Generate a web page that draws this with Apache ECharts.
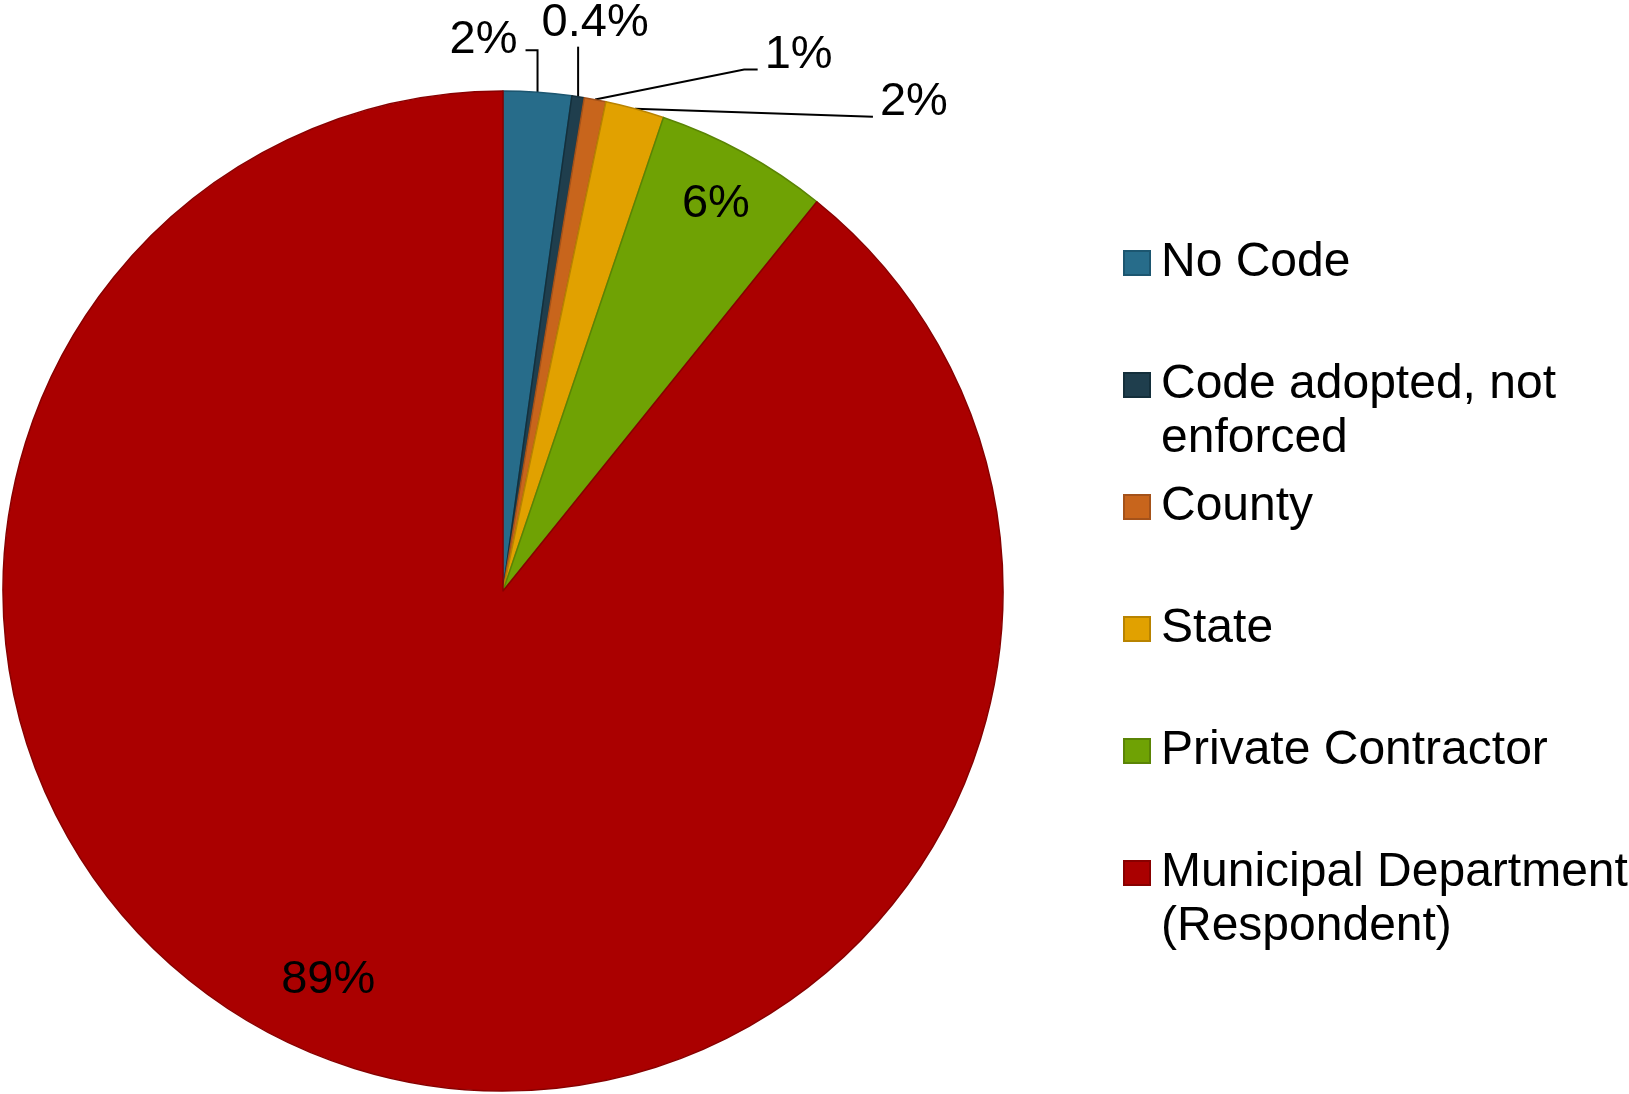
<!DOCTYPE html>
<html><head><meta charset="utf-8">
<script src="https://cdn.jsdelivr.net/npm/echarts@6/dist/echarts.min.js"></script>
<style>html,body{margin:0;padding:0;background:#fff}#c{width:1629px;height:1094px}</style>
</head><body><div id="c"></div>
<script>
// ---- data ----
const categories = ['No Code', 'Code adopted, not enforced', 'County', 'State', 'Private Contractor', 'Municipal Department (Respondent)'];
const legendLines = [['No Code'], ['Code adopted, not', 'enforced'], ['County'], ['State'], ['Private Contractor'], ['Municipal Department', '(Respondent)']];
const values = [2.2, 0.4, 0.7, 1.9, 5.6, 89.2];
const labelTexts = ['2%', '0.4%', '1%', '2%', '6%', '89%'];

// ---- style ----
const colors = ['#276C8A', '#1F3E4D', '#C8651C', '#E1A100', '#6FA204', '#AA0000'];
const borders = ['#1C5670', '#142F3B', '#A4521A', '#B88300', '#5A8405', '#880000'];
const CX = 503, CY = 591, R = 500;
const FONT = '"Liberation Sans", Arial, sans-serif';
const placement = [
  { side: 'out', path: [[0, -42], [-12, 0]], text: [-8, -10], align: 'right' },
  { side: 'out', path: [[0, -50]], text: [17, -24], align: 'center' },
  { side: 'out', path: [[149, -30], [13.5, 0]], text: [7, -15], align: 'left' },
  { side: 'out', path: [[238, 8]], text: [7, -15], align: 'left' },
  { side: 'in', f: 0.884, nudge: [0, 0] },
  { side: 'in', f: 0.852, nudge: [-33, -13] }
];

const rich = {
  sp: { width: 12 },
  ind: { width: 36 },
  t: { fontSize: 48, fontFamily: FONT, color: '#000', lineHeight: 54 }
};
colors.forEach((c, i) => {
  rich['b' + i] = { width: 24, height: 22, backgroundColor: c, borderColor: borders[i], borderWidth: 2 };
});

const chart = echarts.init(document.getElementById('c'), null, { renderer: 'canvas' });
chart.setOption({
  animation: false,
  backgroundColor: '#fff',
  legend: {
    orient: 'vertical',
    left: 1120,
    top: 236,
    padding: 0,
    itemGap: 14,
    itemWidth: 0,
    icon: 'none',
    selectedMode: false,
    textStyle: { fontSize: 48, fontFamily: FONT, color: '#000', lineHeight: 54, rich: rich },
    formatter: function (name) {
      const i = categories.indexOf(name);
      const L = legendLines[i];
      return '{b' + i + '|}{sp|}{t|' + L[0] + '}\n{ind|}{t|' + (L[1] || ' ') + '}';
    },
    data: categories
  },
  series: [{
    type: 'pie',
    center: [CX, CY],
    radius: R,
    startAngle: 90,
    clockwise: true,
    avoidLabelOverlap: false,
    emphasis: { disabled: true },
    itemStyle: { borderWidth: 1.5 },
    label: {
      show: true,
      fontSize: 47,
      fontFamily: FONT,
      color: '#000',
      formatter: function (p) { return labelTexts[p.dataIndex]; }
    },
    labelLine: { show: true, smooth: false, lineStyle: { color: '#000', width: 2 } },
    labelLayout: function (p) {
      const pl = placement[p.dataIndex];
      const r = p.labelRect;
      if (pl.side === 'in') {
        const lx = r.x + r.width / 2, ly = r.y + r.height / 2;
        const dx = lx - CX, dy = ly - CY;
        const d = Math.hypot(dx, dy) || 1;
        return {
          x: CX + dx / d * pl.f * R + pl.nudge[0],
          y: CY + dy / d * pl.f * R + pl.nudge[1],
          align: 'center', verticalAlign: 'middle'
        };
      }
      let a;
      if (p.labelLinePoints && p.labelLinePoints[0]) {
        a = [p.labelLinePoints[0][0], p.labelLinePoints[0][1]];
      } else {
        const lx = r.x + r.width / 2, ly = r.y + r.height / 2;
        const dx = lx - CX, dy = ly - CY;
        const d = Math.hypot(dx, dy) || 1;
        a = [CX + dx / d * R, CY + dy / d * R];
      }
      const pts = [a];
      let cur = a;
      pl.path.forEach(function (o) { cur = [cur[0] + o[0], cur[1] + o[1]]; pts.push(cur); });
      return {
        x: cur[0] + pl.text[0],
        y: cur[1] + pl.text[1],
        align: pl.align,
        verticalAlign: 'middle',
        labelLinePoints: pts
      };
    },
    data: categories.map(function (n, i) {
      const inside = placement[i].side === 'in';
      return {
        name: n,
        value: values[i],
        itemStyle: { color: colors[i], borderColor: borders[i] },
        label: { position: inside ? 'inside' : 'outside' },
        labelLine: { show: !inside }
      };
    })
  }]
});
</script>
</body></html>
